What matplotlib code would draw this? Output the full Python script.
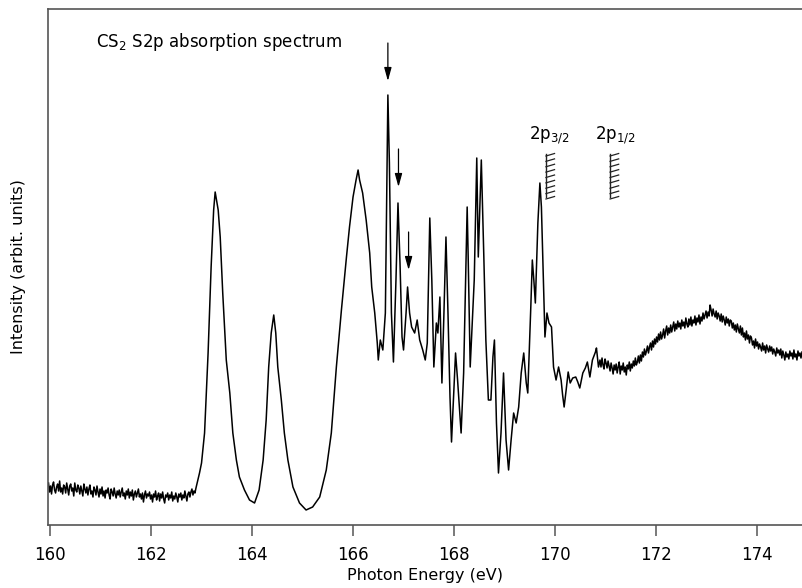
import matplotlib
matplotlib.use("Agg")
import matplotlib.pyplot as plt
import numpy as np

# ---------------- data ----------------
# pre-edge baseline, 160 - 162.9 eV
energy_base = [159.98, 160.00, 160.02, 160.04, 160.06, 160.08, 160.10, 160.12, 160.14, 160.16,
               160.18, 160.20, 160.22, 160.24, 160.26, 160.28, 160.30, 160.32, 160.34, 160.36,
               160.38, 160.40, 160.42, 160.44, 160.46, 160.48, 160.50, 160.52, 160.54, 160.56,
               160.58, 160.60, 160.62, 160.64, 160.66, 160.68, 160.70, 160.72, 160.74, 160.76,
               160.78, 160.80, 160.82, 160.84, 160.86, 160.88, 160.90, 160.92, 160.94, 160.96,
               160.98, 161.00, 161.02, 161.04, 161.06, 161.08, 161.10, 161.12, 161.14, 161.16,
               161.18, 161.20, 161.22, 161.24, 161.26, 161.28, 161.30, 161.32, 161.34, 161.36,
               161.38, 161.40, 161.42, 161.44, 161.46, 161.48, 161.50, 161.52, 161.54, 161.56,
               161.58, 161.60, 161.62, 161.64, 161.66, 161.68, 161.70, 161.72, 161.74, 161.76,
               161.78, 161.80, 161.82, 161.84, 161.86, 161.88, 161.90, 161.92, 161.94, 161.96,
               161.98, 162.00, 162.02, 162.04, 162.06, 162.08, 162.10, 162.12, 162.14, 162.16,
               162.18, 162.20, 162.22, 162.24, 162.26, 162.28, 162.30, 162.32, 162.34, 162.36,
               162.38, 162.40, 162.42, 162.44, 162.46, 162.48, 162.50, 162.52, 162.54, 162.56,
               162.58, 162.60, 162.62, 162.64, 162.66, 162.68, 162.70, 162.72, 162.74, 162.76,
               162.78, 162.80, 162.82, 162.84, 162.86, 162.88, 162.90]
intensity_base = [42, 33, 39, 31, 40, 43, 35, 32, 38, 41,
                  34, 44, 33, 37, 31, 40, 38, 32, 42, 36,
                  30, 39, 41, 34, 37, 29, 42, 35, 33, 40,
                  37, 31, 39, 34, 29, 41, 36, 32, 38, 30,
                  36, 40, 31, 34, 28, 38, 35, 30, 39, 33,
                  28, 36, 31, 38, 29, 34, 27, 35, 32, 37,
                  30, 26, 36, 33, 29, 37, 31, 27, 34, 30,
                  35, 28, 33, 37, 29, 32, 26, 34, 30, 36,
                  27, 33, 29, 35, 25, 31, 34, 28, 32, 36,
                  28, 31, 26, 32, 23, 30, 34, 27, 31, 29,
                  33, 26, 30, 23, 31, 28, 34, 25, 29, 32,
                  24, 31, 27, 33, 26, 22, 30, 28, 32, 25,
                  30, 27, 33, 24, 29, 26, 32, 28, 23, 31,
                  28, 32, 25, 30, 27, 34, 29, 24, 31, 33,
                  28, 33, 36, 30, 34, 32, 37]

# resonance region, 162.97 - 170.87 eV
energy_main = [162.97, 163.01, 163.07, 163.14, 163.20, 163.25, 163.28, 163.34, 163.38, 163.43,
               163.50, 163.57, 163.63, 163.70, 163.76, 163.86, 163.96, 164.06, 164.15, 164.23,
               164.29, 164.34, 164.39, 164.44, 164.48, 164.52, 164.59, 164.65, 164.72, 164.82,
               164.95, 165.08, 165.21, 165.35, 165.48, 165.58, 165.68, 165.78, 165.88, 165.94,
               166.01, 166.07, 166.11, 166.14, 166.20, 166.27, 166.34, 166.38, 166.44, 166.49,
               166.51, 166.55, 166.60, 166.65, 166.68, 166.70, 166.73, 166.77, 166.81, 166.86,
               166.90, 166.94, 166.98, 167.01, 167.06, 167.09, 167.13, 167.17, 167.23, 167.28,
               167.33, 167.39, 167.44, 167.48, 167.53, 167.57, 167.61, 167.66, 167.69, 167.73,
               167.77, 167.81, 167.85, 167.89, 167.93, 167.96, 168.00, 168.04, 168.08, 168.15,
               168.20, 168.27, 168.29, 168.33, 168.38, 168.41, 168.46, 168.49, 168.55, 168.60,
               168.64, 168.69, 168.74, 168.78, 168.81, 168.85, 168.89, 168.94, 168.99, 169.04,
               169.09, 169.14, 169.19, 169.24, 169.29, 169.34, 169.39, 169.44, 169.47, 169.53,
               169.56, 169.59, 169.62, 169.67, 169.71, 169.74, 169.78, 169.81, 169.85, 169.89,
               169.94, 169.98, 170.03, 170.08, 170.13, 170.16, 170.19, 170.23, 170.27, 170.31,
               170.36, 170.42, 170.46, 170.50, 170.56, 170.61, 170.65, 170.70, 170.75, 170.81,
               170.83, 170.87]
intensity_main = [52, 62, 92, 172, 258, 315, 333, 315, 288, 232,
                  165, 132, 92, 65, 48, 35, 25, 22, 35, 65,
                  105, 158, 192, 210, 192, 158, 125, 92, 65, 38,
                  22, 15, 18, 28, 55, 92, 158, 215, 268, 298,
                  328, 345, 355, 345, 332, 305, 272, 238, 212, 182,
                  165, 185, 175, 212, 345, 430, 362, 212, 163, 245,
                  322, 262, 188, 175, 212, 238, 212, 198, 192, 205,
                  185, 175, 165, 182, 307, 245, 158, 202, 192, 228,
                  142, 212, 288, 212, 128, 83, 128, 172, 145, 92,
                  152, 318, 268, 158, 212, 245, 367, 268, 365, 268,
                  185, 125, 125, 168, 185, 102, 52, 92, 152, 85,
                  55, 85, 112, 102, 118, 152, 172, 142, 132, 218,
                  265, 245, 222, 302, 342, 318, 245, 188, 212, 202,
                  198, 158, 145, 158, 145, 130, 118, 135, 153, 142,
                  147, 148, 143, 137, 152, 157, 163, 148, 165, 173,
                  177, 158]

# continuum region, 170.9 - 174.9 eV
energy_tail = [170.90, 170.92, 170.94, 170.96, 170.98, 171.00, 171.02, 171.04, 171.06, 171.08,
               171.10, 171.12, 171.14, 171.16, 171.18, 171.20, 171.22, 171.24, 171.26, 171.28,
               171.30, 171.32, 171.34, 171.36, 171.38, 171.40, 171.42, 171.44, 171.46, 171.48,
               171.50, 171.52, 171.54, 171.56, 171.58, 171.60, 171.62, 171.64, 171.66, 171.68,
               171.70, 171.72, 171.74, 171.76, 171.78, 171.80, 171.82, 171.84, 171.86, 171.88,
               171.90, 171.92, 171.94, 171.96, 171.98, 172.00, 172.02, 172.04, 172.06, 172.08,
               172.10, 172.12, 172.14, 172.16, 172.18, 172.20, 172.22, 172.24, 172.26, 172.28,
               172.30, 172.32, 172.34, 172.36, 172.38, 172.40, 172.42, 172.44, 172.46, 172.48,
               172.50, 172.52, 172.54, 172.56, 172.58, 172.60, 172.62, 172.64, 172.66, 172.68,
               172.70, 172.72, 172.74, 172.76, 172.78, 172.80, 172.82, 172.84, 172.86, 172.88,
               172.90, 172.92, 172.94, 172.96, 172.98, 173.00, 173.02, 173.04, 173.06, 173.08,
               173.10, 173.12, 173.14, 173.16, 173.18, 173.20, 173.22, 173.24, 173.26, 173.28,
               173.30, 173.32, 173.34, 173.36, 173.38, 173.40, 173.42, 173.44, 173.46, 173.48,
               173.50, 173.52, 173.54, 173.56, 173.58, 173.60, 173.62, 173.64, 173.66, 173.68,
               173.70, 173.72, 173.74, 173.76, 173.78, 173.80, 173.82, 173.84, 173.86, 173.88,
               173.90, 173.92, 173.94, 173.96, 173.98, 174.00, 174.02, 174.04, 174.06, 174.08,
               174.10, 174.12, 174.14, 174.16, 174.18, 174.20, 174.22, 174.24, 174.26, 174.28,
               174.30, 174.32, 174.34, 174.36, 174.38, 174.40, 174.42, 174.44, 174.46, 174.48,
               174.50, 174.52, 174.54, 174.56, 174.58, 174.60, 174.62, 174.64, 174.66, 174.68,
               174.70, 174.72, 174.74, 174.76, 174.78, 174.80, 174.82, 174.84, 174.86, 174.88,
               174.90]
intensity_tail = [165, 158, 167, 160, 156, 166, 162, 157, 164, 159,
                  154, 162, 157, 151, 160, 155, 161, 152, 158, 163,
                  151, 159, 155, 162, 153, 158, 150, 160, 156, 163,
                  154, 161, 157, 164, 159, 167, 160, 163, 169, 162,
                  170, 164, 173, 168, 176, 170, 174, 179, 172, 178,
                  182, 175, 184, 178, 186, 181, 188, 183, 191, 185,
                  193, 186, 190, 196, 187, 194, 199, 190, 197, 192,
                  200, 193, 198, 203, 194, 201, 196, 204, 198, 202,
                  196, 205, 199, 203, 197, 207, 201, 198, 206, 200,
                  208, 199, 205, 202, 209, 200, 207, 203, 210, 201,
                  208, 204, 212, 206, 210, 214, 207, 213, 209, 220,
                  215, 209, 216, 211, 208, 214, 206, 212, 209, 204,
                  211, 203, 209, 205, 200, 208, 202, 206, 199, 205,
                  204, 197, 202, 195, 200, 193, 201, 196, 192, 199,
                  190, 197, 188, 192, 185, 194, 186, 190, 182, 189,
                  187, 180, 184, 177, 186, 179, 183, 176, 181, 178,
                  174, 182, 175, 179, 172, 180, 176, 173, 179, 174,
                  178, 171, 176, 173, 169, 177, 172, 175, 170, 176,
                  167, 174, 170, 165, 173, 168, 171, 166, 174, 169,
                  172, 166, 175, 168, 171, 165, 174, 169, 172, 167,
                  173]

# marked peaks (arrows): energy, arrow tip intensity
arrow_energy = [166.70, 166.91, 167.11]
arrow_tip = [444, 338, 255]
arrow_length = 38

# ionisation thresholds
threshold_energy = [169.83, 171.10]
threshold_label = ["2p$_{3/2}$", "2p$_{1/2}$"]
threshold_label_energy = [169.89, 171.21]

title_text = "CS$_2$ S2p absorption spectrum"
xticks = [160, 162, 164, 166, 168, 170, 172, 174]

# ---------------- figure ----------------
energy = np.array(energy_base + energy_main + energy_tail)
intensity = np.array(intensity_base + intensity_main + intensity_tail)

W, H = 802, 588
fig = plt.figure(figsize=(W / 100, H / 100), dpi=100)
ax = fig.add_axes([48 / W, (H - 525) / H, 1 - 48 / W, (525 - 9) / H])

ax.plot(energy, intensity, color="black", lw=1.1)

ax.set_xlim(159.97, 174.9)
ax.set_ylim(0, 516)

ax.set_xticks(xticks)
ax.set_xticklabels([str(t) for t in xticks])
ax.set_yticks([])
ax.tick_params(axis="x", direction="out", length=8, width=1.1, color="#555555",
               labelsize=12, pad=7)
for side in ["left", "bottom", "top"]:
    ax.spines[side].set_color("#555555")
    ax.spines[side].set_linewidth(1.2)
ax.spines["right"].set_visible(False)

ax.set_xlabel("Photon Energy (eV)", fontsize=11.5, labelpad=3)
ax.set_ylabel("Intensity (arbit. units)", fontsize=11.5, labelpad=16)

ax.text(160.93, 478, title_text, fontsize=12, ha="left", va="baseline")

for e, tip in zip(arrow_energy, arrow_tip):
    ax.annotate("", xy=(e, tip), xytext=(e, tip + arrow_length),
                arrowprops=dict(arrowstyle="-|>,head_length=0.8,head_width=0.22",
                                color="black", lw=0.9, shrinkA=0, shrinkB=0))

# threshold hatch marks
hatch_top, hatch_bottom = 371, 328
n_hatch = 9
for e, lab, le in zip(threshold_energy, threshold_label, threshold_label_energy):
    ax.plot([e, e], [hatch_bottom, hatch_top], color="#222222", lw=1.0)
    for k in range(n_hatch):
        y0 = hatch_bottom + k * (hatch_top - hatch_bottom) / (n_hatch - 1)
        ax.plot([e, e + 0.17], [y0 - 2, y0 + 0.5], color="#222222", lw=0.9)
    ax.text(le, 386, lab, fontsize=12, ha="center", va="baseline")

fig.savefig("out.png", dpi=100)
